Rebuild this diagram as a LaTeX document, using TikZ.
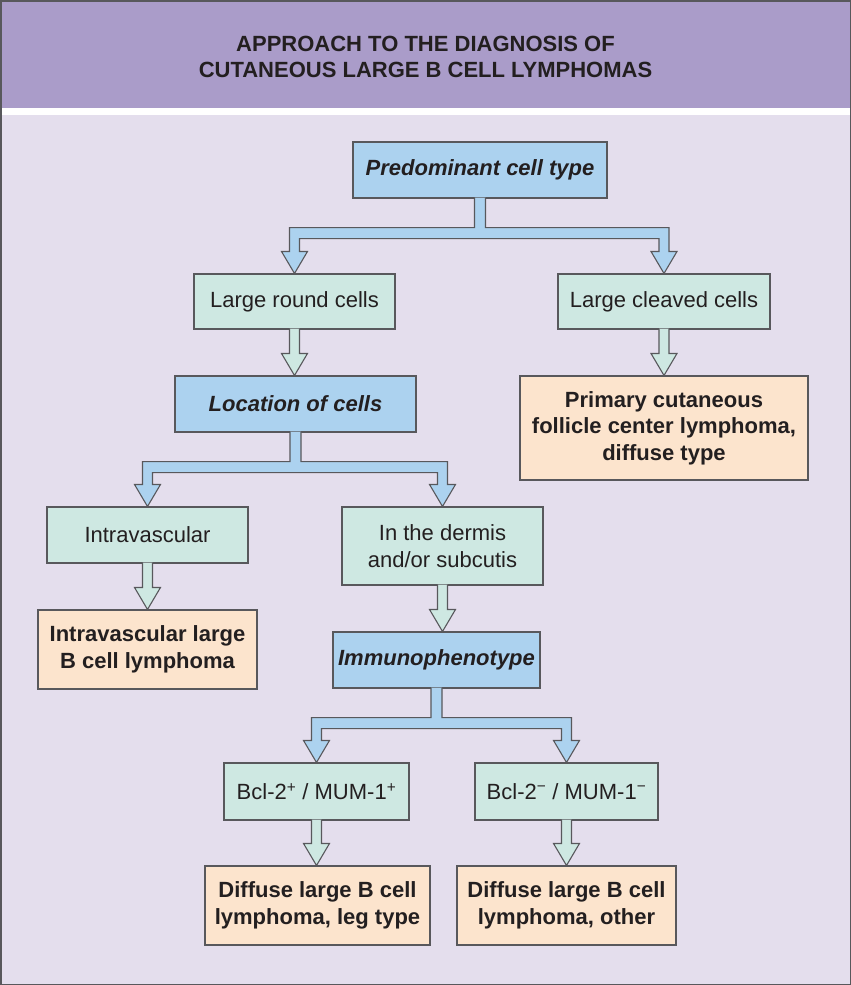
\documentclass[tikz,border=0pt]{standalone}
\usepackage{fontspec}
\setmainfont{Liberation Sans}
\usetikzlibrary{calc}
\definecolor{headpurple}{RGB}{170,156,201}
\definecolor{pagelilac}{RGB}{228,222,237}
\definecolor{askblue}{RGB}{172,210,239}
\definecolor{stepmint}{RGB}{206,232,226}
\definecolor{dxpeach}{RGB}{252,228,205}
\definecolor{edgegray}{RGB}{88,88,92}
\definecolor{inkdark}{RGB}{35,31,32}
\tikzset{
  flowbox/.style={
    draw=edgegray,
    line width=1.1pt,
    minimum height=56pt,
    align=center,
    inner sep=4pt,
    text=inkdark,
    font=\fontsize{22}{26.5}\selectfont
  },
  question/.style={
    flowbox,
    fill=askblue,
    font=\fontsize{22}{26.5}\selectfont\bfseries\itshape
  },
  finding/.style={
    flowbox,
    fill=stepmint
  },
  diagnosis/.style={
    flowbox,
    fill=dxpeach,
    font=\fontsize{22}{26.5}\selectfont\bfseries
  },
  fatline/.style={
    draw=edgegray,
    line width=1.1pt,
    line join=miter
  }
}
% hollow arrow straight down from one box to the next
\newcommand{\flowdown}[3]{%
  \draw[fatline, fill=#3]
    ($(#1.south)+(-5,-1)$) -- ($(#1.south |- #2.north)+(-5,-22)$)
    -- ($(#1.south |- #2.north)+(-13,-22)$) -- (#1.south |- #2.north)
    -- ($(#1.south |- #2.north)+(13,-22)$) -- ($(#1.south |- #2.north)+(5,-22)$)
    -- ($(#1.south)+(5,-1)$);
}
% hollow arrow that splits into two branches
\newcommand{\flowsplit}[4]{%
  \draw[fatline, fill=#4]
    ($(#1.south)+(-5.5,-1)$) -- ($(#1.south)+(-5.5,29)$)
    -- ($(#1.south -| #2.north)+(-5,29)$) -- ($(#2.north)+(-5,-22)$)
    -- ($(#2.north)+(-13,-22)$) -- (#2.north) -- ($(#2.north)+(13,-22)$)
    -- ($(#2.north)+(5,-22)$) -- ($(#1.south -| #2.north)+(5,40)$)
    -- ($(#1.south -| #3.north)+(-5,40)$) -- ($(#3.north)+(-5,-22)$)
    -- ($(#3.north)+(-13,-22)$) -- (#3.north) -- ($(#3.north)+(13,-22)$)
    -- ($(#3.north)+(5,-22)$) -- ($(#1.south -| #3.north)+(5,29)$)
    -- ($(#1.south)+(5.5,29)$) -- ($(#1.south)+(5.5,-1)$);
}
\begin{document}
\begin{tikzpicture}[x=1pt, y=-1pt]
  \useasboundingbox (0,0) rectangle (851,985);
  % panel
  \fill[headpurple] (0,0) rectangle (851,108);
  \fill[white] (0,108) rectangle (851,115);
  \fill[pagelilac] (0,115) rectangle (851,985);
  \draw[edgegray, line width=1.5pt] (0.75,0.75) rectangle (850.25,984.25);
  \node[align=center, text=inkdark, font=\fontsize{22}{26.5}\selectfont\bfseries]
    (title) at (425.5,57) {APPROACH TO THE DIAGNOSIS OF\\CUTANEOUS LARGE B CELL LYMPHOMAS};

  % boxes
  \node[question, minimum width=254pt] (celltype) at (480,170) {Predominant cell type};
  \node[finding, minimum width=201pt, minimum height=55pt] (round) at (294.5,301.5) {Large round cells};
  \node[finding, minimum width=212pt, minimum height=55pt] (cleaved) at (664,301.5) {Large cleaved cells};
  \node[question, minimum width=241pt] (location) at (295.5,404) {Location of cells};
  \node[diagnosis, minimum width=288pt, minimum height=104pt] (pcfcl) at (664,428)
    {Primary cutaneous\\follicle center lymphoma,\\diffuse type};
  \node[finding, minimum width=201pt] (intra) at (147.5,535) {Intravascular};
  \node[finding, minimum width=201pt, minimum height=78pt] (dermis) at (442.5,546)
    {In the dermis\\and/or subcutis};
  \node[diagnosis, minimum width=219pt, minimum height=79pt] (ivlbcl) at (147.5,649.5)
    {Intravascular large\\B cell lymphoma};
  \node[question, minimum width=207pt] (immuno) at (436.5,660) {Immunophenotype};
  \node[finding, minimum width=185pt, minimum height=57pt] (bclpos) at (316.5,791.5)
    {Bcl-2\textsuperscript{+} / MUM-1\textsuperscript{+}};
  \node[finding, minimum width=183pt, minimum height=57pt] (bclneg) at (566.5,791.5)
    {Bcl-2\textsuperscript{−} / MUM-1\textsuperscript{−}};
  \node[diagnosis, minimum width=225pt, minimum height=79pt] (legtype) at (317.5,905.5)
    {Diffuse large B cell\\lymphoma, leg type};
  \node[diagnosis, minimum width=219pt, minimum height=79pt] (other) at (566.5,905.5)
    {Diffuse large B cell\\lymphoma, other};

  % arrows
  \flowsplit{celltype}{round}{cleaved}{askblue}
  \flowsplit{location}{intra}{dermis}{askblue}
  \flowsplit{immuno}{bclpos}{bclneg}{askblue}
  \foreach \a/\b in {round/location,cleaved/pcfcl,intra/ivlbcl,dermis/immuno,bclpos/legtype,bclneg/other}
    \flowdown{\a}{\b}{stepmint};
\end{tikzpicture}
\end{document}
